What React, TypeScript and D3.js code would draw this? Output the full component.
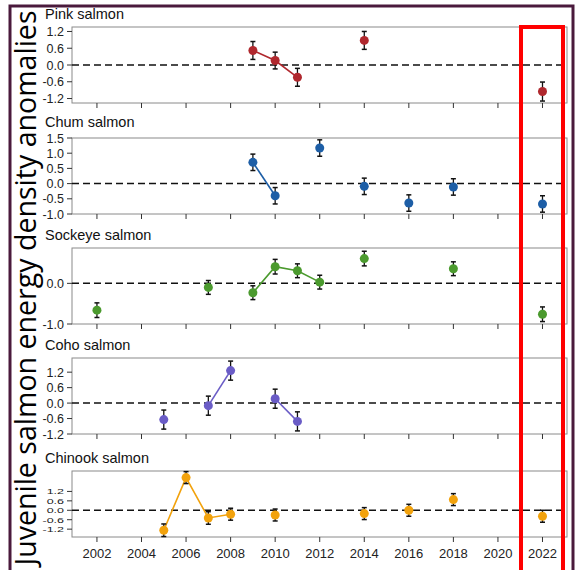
import React from "react";
import * as d3 from "d3";

const xTickYears = [2002, 2004, 2006, 2008, 2010, 2012, 2014, 2016, 2018, 2020, 2022];

const pinkYears = [2009, 2010, 2011, 2014, 2022];
const pinkValues = [0.52, 0.16, -0.44, 0.88, -0.95];
const pinkErrors = [0.32, 0.3, 0.32, 0.32, 0.34];
const pinkTicks = [1.2, 0.6, 0.0, -0.6, -1.2];

const chumYears = [2009, 2010, 2012, 2014, 2016, 2018, 2022];
const chumValues = [0.7, -0.4, 1.17, -0.09, -0.64, -0.11, -0.67];
const chumErrors = [0.27, 0.27, 0.27, 0.27, 0.27, 0.27, 0.27];
const chumTicks = [1.5, 1.0, 0.5, 0.0, -0.5, -1.0];

const sockeyeYears = [2002, 2007, 2009, 2010, 2011, 2012, 2014, 2018, 2022];
const sockeyeValues = [-0.66, -0.1, -0.23, 0.41, 0.31, 0.03, 0.61, 0.36, -0.76];
const sockeyeErrors = [0.18, 0.17, 0.17, 0.18, 0.17, 0.17, 0.18, 0.17, 0.18];
const sockeyeTicks = [0.0, -1.0];

const cohoYears = [2005, 2007, 2008, 2010, 2011];
const cohoValues = [-0.64, -0.1, 1.26, 0.17, -0.71];
const cohoErrors = [0.37, 0.37, 0.37, 0.37, 0.37];
const cohoTicks = [1.2, 0.6, 0.0, -0.6, -1.2];

const chinookYears = [2005, 2006, 2007, 2008, 2010, 2014, 2016, 2018, 2022];
const chinookValues = [-1.27, 2.08, -0.49, -0.25, -0.3, -0.21, 0.0, 0.68, -0.38];
const chinookErrors = [0.4, 0.38, 0.4, 0.38, 0.38, 0.38, 0.38, 0.38, 0.38];
const chinookTicks = [1.2, 0.6, 0.0, -0.6, -1.2];

const panels = [
  { title: "Pink salmon", color: "#b0282e", years: pinkYears, values: pinkValues, errors: pinkErrors, ticks: pinkTicks, domain: [-1.36, 1.36], top: 27, bottom: 103, squash: 1, tOff: 8 },
  { title: "Chum salmon", color: "#1d5ea6", years: chumYears, values: chumValues, errors: chumErrors, ticks: chumTicks, domain: [-1.0, 1.5], top: 138, bottom: 214, squash: 1, tOff: 11 },
  { title: "Sockeye salmon", color: "#4b9a2e", years: sockeyeYears, values: sockeyeValues, errors: sockeyeErrors, ticks: sockeyeTicks, domain: [-1.0, 0.87], top: 248, bottom: 324, squash: 1, tOff: 8 },
  { title: "Coho salmon", color: "#6a5cc6", years: cohoYears, values: cohoValues, errors: cohoErrors, ticks: cohoTicks, domain: [-1.2, 1.75], top: 358, bottom: 434, squash: 1, tOff: 8 },
  { title: "Chinook salmon", color: "#f2a20c", years: chinookYears, values: chinookValues, errors: chinookErrors, ticks: chinookTicks, domain: [-1.7, 2.5], top: 471, bottom: 537, squash: 0.62, tOff: 8 },
];

const W = 576;
const H = 570;
const left = 72;
const right = 567;
const font = "Liberation Sans, Arial, sans-serif";

function segments(years: number[], values: number[]) {
  const segs: [number, number][][] = [];
  let cur: [number, number][] = [];
  years.forEach((y, i) => {
    if (cur.length && y - cur[cur.length - 1][0] !== 1) {
      if (cur.length > 1) segs.push(cur);
      cur = [];
    }
    cur.push([y, values[i]]);
  });
  if (cur.length > 1) segs.push(cur);
  return segs;
}

export default function App() {
  const x = d3.scaleLinear().domain([2000.88, 2023.1]).range([left, right]);
  const fmtTick = (v: number) => (v < 0 ? "-" + d3.format(".1f")(-v) : d3.format(".1f")(v));
  return (
    <svg width={W} height={H} style={{ position: "absolute", left: 0, top: 0, background: "#ffffff" }}>
      <rect x={10} y={6} width={563} height={570} fill="#ffffff" stroke="#4a1a3c" strokeWidth={3} />
      {panels.map((p, pi) => {
        const y = d3.scaleLinear().domain(p.domain).range([p.bottom, p.top]);
        const line = d3.line<[number, number]>().x((d) => x(d[0])).y((d) => y(d[1]));
        return (
          <g key={pi}>
            <text x={45} y={p.top - p.tOff} fontFamily={font} fontSize={14.5} fill="#111">{p.title}</text>
            <rect x={left} y={p.top} width={right - left} height={p.bottom - p.top} fill="none" stroke="#8a8a8a" strokeWidth={1} />
            {p.ticks.map((t, ti) => (
              <g key={ti}>
                <line x1={left - 5} x2={left} y1={y(t)} y2={y(t)} stroke="#333" strokeWidth={1} />
                <text
                  transform={`translate(64,${y(t)}) scale(1,${p.squash})`}
                  dy="0.36em"
                  textAnchor="end"
                  fontFamily={font}
                  fontSize={12.5}
                  fill="#222"
                >
                  {fmtTick(t)}
                </text>
              </g>
            ))}
            {xTickYears.map((yr) => (
              <line key={yr} x1={x(yr)} x2={x(yr)} y1={p.bottom} y2={p.bottom + 5} stroke="#333" strokeWidth={1} />
            ))}
            <line x1={left} x2={right} y1={y(0)} y2={y(0)} stroke="#111" strokeWidth={1.5} strokeDasharray="7,4" />
            {segments(p.years, p.values).map((s, si) => (
              <path key={si} d={line(s) || ""} fill="none" stroke={p.color} strokeWidth={1.6} />
            ))}
            {p.years.map((yr, i) => {
              const cx = x(yr);
              const hi = y(p.values[i] + p.errors[i]);
              const lo = y(p.values[i] - p.errors[i]);
              return (
                <g key={yr}>
                  <line x1={cx} x2={cx} y1={hi} y2={lo} stroke="#111" strokeWidth={1.3} />
                  <line x1={cx - 2.5} x2={cx + 2.5} y1={hi} y2={hi} stroke="#111" strokeWidth={1.5} />
                  <line x1={cx - 2.5} x2={cx + 2.5} y1={lo} y2={lo} stroke="#111" strokeWidth={1.5} />
                  <circle cx={cx} cy={y(p.values[i])} r={4.5} fill={p.color} />
                </g>
              );
            })}
          </g>
        );
      })}
      {xTickYears.map((yr) => (
        <text key={yr} x={x(yr)} y={558} textAnchor="middle" fontFamily={font} fontSize={13} fill="#222">{yr}</text>
      ))}
      <text
        transform="translate(36,288) rotate(-90)"
        textAnchor="middle"
        fontFamily="Open Sans, Liberation Sans, sans-serif"
        fontSize={29}
        textLength={555}
        lengthAdjust="spacingAndGlyphs"
        fill="#000"
      >
        Juvenile salmon energy density anomalies
      </text>
      <rect x={521} y={27} width={42} height={560} fill="none" stroke="#ff0000" strokeWidth={4} />
    </svg>
  );
}
